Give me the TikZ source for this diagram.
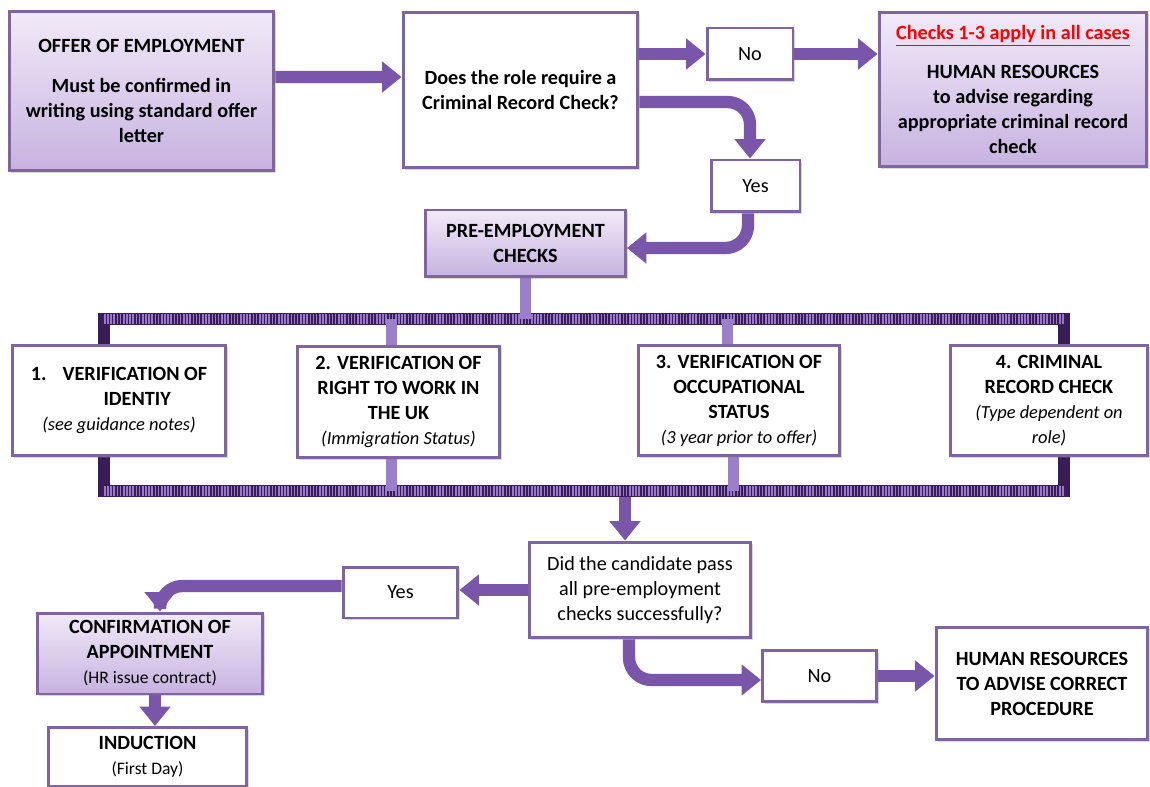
\documentclass[tikz,border=0pt]{standalone}
\usepackage{fontspec}
\setmainfont{Carlito}
\usetikzlibrary{arrows.meta,shadows,backgrounds}
\definecolor{boxline}{HTML}{8064A2}
\definecolor{lavtop}{HTML}{F1EAF8}
\definecolor{lavbot}{HTML}{C7B2E0}
\definecolor{arrowcol}{HTML}{7A56AA}
\definecolor{framedark}{HTML}{3A1D58}
\definecolor{framelight}{HTML}{9A78C8}
\definecolor{stubcol}{HTML}{9B7FCB}
\definecolor{checkred}{HTML}{FF0000}
\newcommand{\subnote}[1]{{\fontsize{10.5}{13.5}\selectfont\mdseries\itshape #1}}
\newcommand{\subplain}[1]{{\fontsize{10}{13}\selectfont\mdseries #1}}

\begin{document}
\begin{tikzpicture}[x=0.02cm,y=-0.02cm,
    every node/.style={font=\fontsize{11.5}{14.2}\selectfont, align=center, inner sep=2pt},
    whitebox/.style={draw=boxline, line width=1.7pt, fill=white,
      drop shadow={opacity=0.3, shadow xshift=1.2pt, shadow yshift=-1.2pt}},
    lavbox/.style={whitebox, top color=lavtop, bottom color=lavbot},
    boldtext/.style={font=\fontsize{11.5}{14.2}\selectfont\bfseries},
    fatarrow/.style={draw=arrowcol, line width=7pt, -{Triangle[width=17pt,length=11pt]}},
    roundarrow/.style={fatarrow, rounded corners=0.45cm},
    stubbar/.style={draw=stubcol, line width=6.5pt}]
    \useasboundingbox (0,0) rectangle (1150,787);

    % top row
    \node [lavbox, boldtext, minimum width=5.3cm, minimum height=3.2cm] (offer) at (141.5,91)
        {OFFER OF EMPLOYMENT\\[9pt]Must be confirmed in\\writing using standard offer\\letter};
    \node [whitebox, boldtext, minimum width=4.7cm, minimum height=3.12cm] (q1) at (520.5,90)
        {Does the role require a\\Criminal Record Check?};
    \node [whitebox, minimum width=1.72cm, minimum height=1.04cm] (no1) at (750,54) {No};
    \node [lavbox, boldtext, minimum width=5.36cm, minimum height=3.1cm] (hr1) at (1013,89.5)
        {\textcolor{checkred}{\underline{Checks 1-3 apply in all cases}}\\[8pt]HUMAN RESOURCES\\to advise regarding\\appropriate criminal record\\check};
    \node [whitebox, minimum width=1.78cm, minimum height=1.04cm] (yes1) at (755.5,186) {Yes};
    \node [lavbox, boldtext, minimum width=4cm, minimum height=1.34cm] (pre) at (525.5,243.5)
        {PRE-EMPLOYMENT\\CHECKS};

    % the four checks
    \node [whitebox, boldtext, minimum width=4.28cm, minimum height=2.22cm] (chk1) at (119,400.5)
        {1.\hspace{0.8em}VERIFICATION OF\\\hspace*{1.8em}IDENTIY\\\subnote{(see guidance notes)}};
    \node [whitebox, boldtext, minimum width=4.06cm, minimum height=2.24cm] (chk2) at (398.5,402)
        {2. VERIFICATION OF\\RIGHT TO WORK IN\\THE UK\\\subnote{(Immigration Status)}};
    \node [whitebox, boldtext, minimum width=4.04cm, minimum height=2.22cm] (chk3) at (739,400.5)
        {3. VERIFICATION OF\\OCCUPATIONAL\\STATUS\\\subnote{(3 year prior to offer)}};
    \node [whitebox, boldtext, minimum width=3.96cm, minimum height=2.22cm] (chk4) at (1049,400.5)
        {4. CRIMINAL\\RECORD CHECK\\\subnote{(Type dependent on}\\\subnote{role)}};

    % bottom part
    \node [whitebox, minimum width=4.44cm, minimum height=1.92cm] (q2) at (640,590)
        {Did the candidate pass\\all pre-employment\\checks successfully?};
    \node [whitebox, minimum width=2.3cm, minimum height=1.02cm] (yes2) at (400.5,592.5) {Yes};
    \node [lavbox, boldtext, minimum width=4.52cm, minimum height=1.62cm] (conf) at (150,653.5)
        {CONFIRMATION OF\\APPOINTMENT\\\subplain{(HR issue contract)}};
    \node [whitebox, boldtext, minimum width=3.98cm, minimum height=1.18cm] (ind) at (147.5,757)
        {INDUCTION\\\subplain{(First Day)}};
    \node [whitebox, minimum width=2.28cm, minimum height=1.02cm] (no2) at (819.5,676) {No};
    \node [whitebox, boldtext, minimum width=4.24cm, minimum height=2.26cm] (hr2) at (1042,683.5)
        {HUMAN RESOURCES\\TO ADVISE CORRECT\\PROCEDURE};

    % striped frame round the checks
    \coordinate (ftl) at (104,319);
    \coordinate (fbr) at (1064,491);
    \coordinate (fout) at (625,497);
    \begin{scope}[on background layer]
        \draw [framedark, line width=7pt] (ftl) rectangle (fbr);
        \draw [framelight, line width=5.5pt, dash pattern=on 0.9pt off 0.9pt] (ftl) -- (ftl -| fbr);
        \draw [framelight, line width=5.5pt, dash pattern=on 0.9pt off 0.9pt] (ftl |- fbr) -- (fbr);
        \draw [stubbar] (pre.south) -- (pre.south |- ftl);
        \draw [stubbar] ([xshift=-0.14cm]chk2.north) -- ([xshift=-0.14cm]chk2.north |- ftl);
        \draw [stubbar] ([xshift=-0.23cm]chk3.north) -- ([xshift=-0.23cm]chk3.north |- ftl);
        \draw [stubbar] ([xshift=-0.14cm]chk2.south) -- ([xshift=-0.14cm]chk2.south |- fbr);
        \draw [stubbar] ([xshift=-0.11cm]chk3.south) -- ([xshift=-0.11cm]chk3.south |- fbr);
    \end{scope}

    % connectors
    \draw [fatarrow] ([yshift=0.28cm]offer.east) -- ([yshift=0.26cm]q1.west);
    \draw [fatarrow] (q1.east |- no1.west) -- (no1.west);
    \draw [fatarrow] (no1.east) -- (no1.east -| hr1.west);
    \draw [roundarrow] ([yshift=-0.24cm]q1.east) -| ([xshift=-0.11cm]yes1.north);
    \draw [roundarrow] ([xshift=-0.15cm]yes1.south) |- ([yshift=-0.09cm]pre.east);
    \draw [fatarrow] (fout) -- (fout |- q2.north);
    \draw [fatarrow] (q2.west) -- (q2.west -| yes2.east);
    \draw [roundarrow] ([yshift=0.13cm]yes2.west) -| ([xshift=0.2cm]conf.north);
    \draw [fatarrow] ([xshift=0.1cm]conf.south) -- ([xshift=0.1cm]conf.south |- ind.north);
    \draw [roundarrow] ([xshift=-0.22cm]q2.south) |- ([yshift=-0.08cm]no2.west);
    \draw [fatarrow] (no2.east) -- (no2.east -| hr2.west);
\end{tikzpicture}
\end{document}
